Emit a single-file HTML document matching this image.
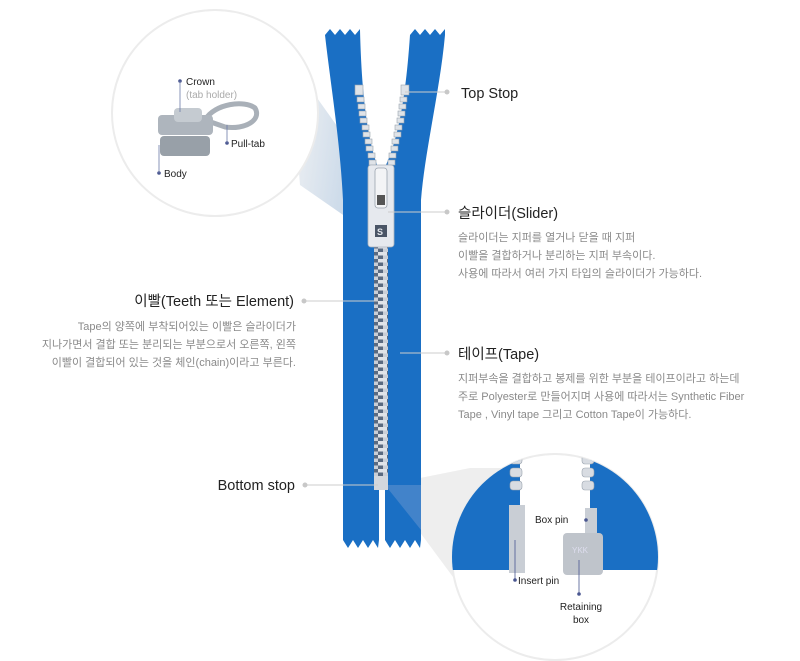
<!DOCTYPE html>
<html><head><meta charset="utf-8"><style>
html,body{margin:0;padding:0;background:#fff;}
svg{display:block}
text{font-family:"Liberation Sans","Noto Sans CJK KR",sans-serif;}
.h{font-size:14.5px;fill:#222}
.b{font-size:11px;fill:#8a8a8a}
.s{font-size:10px;fill:#222}
</style></head><body>
<svg width="800" height="661" viewBox="0 0 800 661" xmlns="http://www.w3.org/2000/svg">
<defs>
<linearGradient id="cone1" x1="0" y1="0" x2="1" y2="0.3">
<stop offset="0" stop-color="#f2f2f2"/><stop offset="1" stop-color="#b8cde3"/></linearGradient>
<pattern id="teeth" x="0" y="0" width="14" height="7" patternUnits="userSpaceOnUse">
<rect width="14" height="7" fill="#5a6a80"/>
<rect x="0" y="0" width="9" height="3.5" fill="#dfe3e8"/>
<rect x="5" y="3.5" width="9" height="3.5" fill="#c9ced6"/>
</pattern>
<clipPath id="c2"><circle cx="555" cy="557" r="103"/></clipPath>
</defs>

<polygon points="290,60 372,175 372,235 300,185" fill="url(#cone1)" opacity="0.85"/>
<circle cx="215" cy="113" r="103" fill="#fff" stroke="#ececec" stroke-width="2"/>

<polygon points="385,485 470,468 520,468 470,600" fill="#eeeeee"/>

<path d="M325,35 l5,-6 l5,6 l5,-6 l5,6 l5,-6 l5,6 l5,-6 L360,30 C362,110 370,150 381,175 L381,540 L343,540 L343,200 C340,140 330,80 325,35 Z" fill="#1a6fc4"/>
<path d="M410,35 l5,-6 l5,6 l5,-6 l5,6 l5,-6 l5,6 l5,-6 L445,35 C440,90 425,150 421,200 L421,540 L381,540 L381,175 C395,150 405,110 410,35 Z" fill="#1a6fc4"/>
<path d="M343,540 l5,8 l5,-8 l5,8 l5,-8 l5,8 l5,-8 l5,8 L379,540 Z" fill="#1a6fc4"/>
<path d="M385,540 l5,8 l5,-8 l5,8 l5,-8 l5,8 l5,-8 l5,8 L421,540 Z" fill="#1a6fc4"/>
<rect x="379" y="490" width="6" height="60" fill="#fff"/>
<polygon points="385,485 421,485 421,530" fill="#5d91cf" opacity="0.6"/>

<g fill="#dfe3e8" stroke="#9aa3ae" stroke-width="0.6">
<rect x="355" y="85" width="8" height="10"/>
<rect x="357" y="97" width="7" height="5"/><rect x="358" y="104" width="7" height="5"/>
<rect x="359" y="111" width="7" height="5"/><rect x="360" y="118" width="7" height="5"/>
<rect x="362" y="125" width="7" height="5"/><rect x="363" y="132" width="7" height="5"/>
<rect x="365" y="139" width="7" height="5"/><rect x="366" y="146" width="7" height="5"/>
<rect x="368" y="153" width="7" height="5"/><rect x="369" y="160" width="7" height="5"/>
<rect x="401" y="85" width="8" height="10"/>
<rect x="400" y="97" width="7" height="5"/><rect x="399" y="104" width="7" height="5"/>
<rect x="398" y="111" width="7" height="5"/><rect x="397" y="118" width="7" height="5"/>
<rect x="395" y="125" width="7" height="5"/><rect x="394" y="132" width="7" height="5"/>
<rect x="392" y="139" width="7" height="5"/><rect x="391" y="146" width="7" height="5"/>
<rect x="389" y="153" width="7" height="5"/><rect x="388" y="160" width="7" height="5"/>
</g>
<rect x="374" y="240" width="14" height="238" fill="url(#teeth)"/>
<rect x="374" y="476" width="14" height="14" fill="#d3d7dd"/>
<rect x="368" y="165" width="26" height="82" rx="3" fill="#e6e9ee" stroke="#aab2bc" stroke-width="0.8"/>
<rect x="375" y="168" width="12" height="40" rx="3" fill="#f3f4f6" stroke="#9aa3ae" stroke-width="0.8"/>
<rect x="377" y="195" width="8" height="10" fill="#555"/>
<rect x="375" y="225" width="12" height="12" fill="#4a5566"/>
<text x="377" y="235" font-size="9" fill="#e6e9ee" font-weight="bold">S</text>

<g>
<path d="M205,120 C215,103 245,100 255,108 C262,120 245,130 225,127 Z" fill="none" stroke="#a9b0b8" stroke-width="5"/>
<rect x="158" y="115" width="55" height="20" rx="4" fill="#aeb5bd"/>
<rect x="160" y="136" width="50" height="20" rx="4" fill="#98a0a8"/>
<rect x="174" y="108" width="28" height="14" rx="4" fill="#c5cbd1"/>
</g>
<g fill="#4a5790">
<circle cx="180" cy="81" r="1.8"/><circle cx="227" cy="143" r="1.8"/><circle cx="159" cy="173" r="1.8"/>
</g>
<g stroke="#6b7aa8" stroke-width="0.8">
<line x1="180" y1="81" x2="180" y2="112"/><line x1="227" y1="125" x2="227" y2="143"/><line x1="159" y1="145" x2="159" y2="173"/>
</g>
<text x="186" y="85" class="s">Crown</text>
<text x="186" y="98" font-size="10" fill="#aaa">(tab holder)</text>
<text x="231" y="147" class="s">Pull-tab</text>
<text x="164" y="177" class="s">Body</text>

<circle cx="555" cy="557" r="103" fill="#fff" stroke="#ececec" stroke-width="2"/>
<g clip-path="url(#c2)">
<rect x="440" y="450" width="80" height="120" fill="#1a6fc4"/>
<rect x="590" y="450" width="80" height="120" fill="#1a6fc4"/>
<g fill="#d8dce2" stroke="#9aa3ae" stroke-width="0.6">
<rect x="510" y="455" width="12" height="9" rx="3"/><rect x="510" y="468" width="12" height="9" rx="3"/><rect x="510" y="481" width="12" height="9" rx="3"/>
<rect x="582" y="455" width="12" height="9" rx="3"/><rect x="582" y="468" width="12" height="9" rx="3"/><rect x="582" y="481" width="12" height="9" rx="3"/>
</g>
<rect x="509" y="505" width="16" height="68" fill="#c9ced5"/>
<rect x="585" y="508" width="12" height="28" fill="#c9ced5"/>
<rect x="563" y="533" width="40" height="42" rx="4" fill="#bfc4cb"/>
<text x="572" y="553" font-size="8" fill="#dde">YKK</text>
</g>
<g fill="#4a5790">
<circle cx="586" cy="520" r="1.8"/><circle cx="515" cy="580" r="1.8"/><circle cx="579" cy="594" r="1.8"/>
</g>
<g stroke="#4a5790" stroke-width="0.8">
<line x1="515" y1="540" x2="515" y2="580"/><line x1="579" y1="560" x2="579" y2="594"/>
</g>
<text x="535" y="523" class="s">Box pin</text>
<text x="518" y="584" class="s">Insert pin</text>
<text x="581" y="610" class="s" text-anchor="middle">Retaining</text>
<text x="581" y="623" class="s" text-anchor="middle">box</text>

<g stroke="#ccc" stroke-width="1">
<line x1="405" y1="92" x2="447" y2="92"/>
<line x1="388" y1="212" x2="447" y2="212"/>
<line x1="304" y1="301" x2="378" y2="301"/>
<line x1="400" y1="353" x2="447" y2="353"/>
<line x1="305" y1="485" x2="378" y2="485"/>
</g>
<g fill="#c8c8c8">
<circle cx="447" cy="92" r="2.5"/><circle cx="447" cy="212" r="2.5"/><circle cx="304" cy="301" r="2.5"/>
<circle cx="447" cy="353" r="2.5"/><circle cx="305" cy="485" r="2.5"/>
</g>

<text x="461" y="98" class="h">Top Stop</text>
<text x="458" y="218" class="h">슬라이더(Slider)</text>
<text x="458" y="241" class="b">슬라이더는 지퍼를 열거나 닫을 때 지퍼</text>
<text x="458" y="259" class="b">이빨을 결합하거나 분리하는 지퍼 부속이다.</text>
<text x="458" y="277" class="b">사용에 따라서 여러 가지 타입의 슬라이더가 가능하다.</text>

<text x="294" y="306" class="h" text-anchor="end">이빨(Teeth 또는 Element)</text>
<text x="296" y="330" class="b" text-anchor="end">Tape의 양쪽에 부착되어있는 이빨은 슬라이더가</text>
<text x="296" y="348" class="b" text-anchor="end">지나가면서 결합 또는 분리되는 부분으로서 오른쪽, 왼쪽</text>
<text x="296" y="366" class="b" text-anchor="end">이빨이 결합되어 있는 것을 체인(chain)이라고 부른다.</text>

<text x="458" y="359" class="h">테이프(Tape)</text>
<text x="458" y="382" class="b">지퍼부속을 결합하고 봉제를 위한 부분을 테이프이라고 하는데</text>
<text x="458" y="400" class="b">주로 Polyester로 만들어지며 사용에 따라서는 Synthetic Fiber</text>
<text x="458" y="418" class="b">Tape , Vinyl tape 그리고 Cotton Tape이 가능하다.</text>

<text x="295" y="490" class="h" text-anchor="end">Bottom stop</text>
</svg>
</body></html>
